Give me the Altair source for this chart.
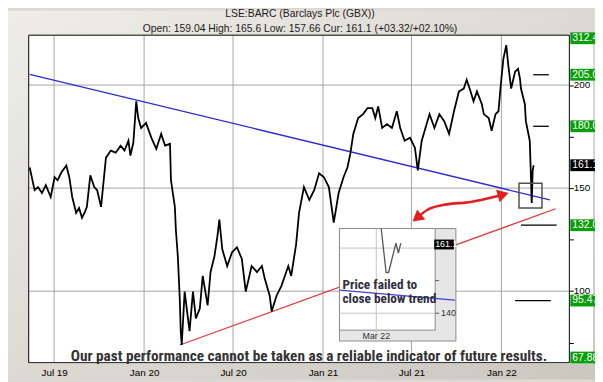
import altair as alt
import pandas as pd

# ---------------- text ----------------
title_text = "LSE:BARC (Barclays Plc (GBX))"
subtitle_text = "Open: 159.04 High: 165.6 Low: 157.66 Cur: 161.1 (+03.32/+02.10%)"
disclaimer_text = "Our past performance cannot be taken as a reliable indicator of future results."
note_lines = ["Price failed to", "close below trend"]

# ---------------- price series ----------------
price_dates = [
    "2019-05-12", "2019-05-22", "2019-05-29", "2019-06-06", "2019-06-14", "2019-06-24",
    "2019-07-02", "2019-07-08", "2019-07-16", "2019-07-26", "2019-08-01", "2019-08-07",
    "2019-08-15", "2019-08-21", "2019-08-27", "2019-09-02", "2019-09-06", "2019-09-13",
    "2019-09-21", "2019-09-27", "2019-10-05", "2019-10-09", "2019-10-15", "2019-10-25",
    "2019-11-04", "2019-11-14", "2019-11-22", "2019-11-30", "2019-12-04", "2019-12-10",
    "2019-12-16", "2019-12-20", "2019-12-26", "2020-01-05", "2020-01-16", "2020-01-26",
    "2020-02-05", "2020-02-13", "2020-02-23", "2020-02-25", "2020-03-04", "2020-03-06",
    "2020-03-10", "2020-03-14", "2020-03-16", "2020-03-18", "2020-03-24", "2020-04-03",
    "2020-04-10", "2020-04-16", "2020-04-24", "2020-04-30", "2020-05-10", "2020-05-16",
    "2020-05-24", "2020-05-30", "2020-06-03", "2020-06-09", "2020-06-19", "2020-06-29",
    "2020-07-09", "2020-07-19", "2020-07-27", "2020-08-08", "2020-08-19", "2020-08-29",
    "2020-09-04", "2020-09-14", "2020-09-18", "2020-09-28", "2020-10-08", "2020-10-22",
    "2020-10-28", "2020-11-07", "2020-11-13", "2020-11-23", "2020-12-04", "2020-12-14",
    "2020-12-24", "2021-01-03", "2021-01-13", "2021-01-23", "2021-02-02", "2021-02-12",
    "2021-02-20", "2021-02-26", "2021-03-04", "2021-03-14", "2021-03-24", "2021-04-02",
    "2021-04-12", "2021-04-18", "2021-04-24", "2021-05-02", "2021-05-12", "2021-05-22",
    "2021-06-01", "2021-06-08", "2021-06-17", "2021-06-28", "2021-07-08", "2021-07-14",
    "2021-07-22", "2021-07-28", "2021-08-07", "2021-08-17", "2021-08-27", "2021-09-06",
    "2021-09-16", "2021-09-26", "2021-10-06", "2021-10-16", "2021-10-22", "2021-10-30",
    "2021-11-05", "2021-11-12", "2021-11-22", "2021-11-26", "2021-12-06", "2021-12-12",
    "2021-12-20", "2021-12-26", "2021-12-30", "2022-01-05", "2022-01-11", "2022-01-15",
    "2022-01-21", "2022-01-29", "2022-02-04", "2022-02-08", "2022-02-10", "2022-02-18",
    "2022-02-20", "2022-02-28", "2022-03-02", "2022-03-04", "2022-03-06", "2022-03-08",
]
price_values = [
    160.0, 149.0, 150.5, 147.6, 151.4, 145.7,
    155.3, 153.8, 157.7, 161.0, 155.3, 145.7,
    138.0, 140.4, 135.6, 138.5, 140.9, 156.2,
    150.5, 149.0, 140.9, 150.5, 164.8, 168.2,
    167.2, 170.6, 168.2, 173.0, 165.8, 172.0,
    192.1, 184.0, 179.2, 181.6, 174.4, 169.1,
    176.3, 170.6, 171.5, 153.8, 140.9, 129.9,
    117.0, 96.4, 80.6, 73.9, 99.8, 80.6,
    99.8, 86.8, 91.6, 107.4, 93.1, 109.3,
    117.0, 126.6, 134.7, 120.3, 112.2, 118.9,
    121.3, 115.6, 99.8, 112.2, 109.3, 112.2,
    106.0, 97.8, 90.2, 97.8, 102.6, 112.2,
    107.4, 122.7, 138.0, 150.5, 144.3, 149.0,
    157.2, 155.3, 150.5, 133.3, 147.6, 155.3,
    160.0, 166.7, 176.3, 184.0, 185.9, 188.8,
    188.8, 184.0, 189.7, 179.2, 181.1, 179.2,
    187.3, 179.2, 173.0, 174.4, 169.6, 158.6,
    173.0, 177.8, 185.9, 179.2, 185.9, 182.5,
    176.3, 187.3, 196.9, 198.3, 202.6, 196.9,
    192.1, 196.9, 190.7, 185.9, 184.0, 177.8,
    185.9, 187.3, 198.3, 212.7, 219.4, 209.8,
    198.3, 206.5, 207.9, 203.1, 198.3, 190.7,
    182.5, 173.0, 158.6, 142.8, 158.6, 161.1,
]

# trend lines
blue_dates = ["2019-05-12", "2022-04-10"]
blue_values = [205.2, 144.3]
red_dates = ["2020-03-14", "2022-04-22"]
red_values = [73.9, 140.0]

# target levels (short black lines)
target_values = [205.0, 180.0, 132.0, 95.47]
target_start = ["2022-03-07", "2022-03-07", "2022-02-10", "2022-01-29"]
target_end = ["2022-04-08", "2022-04-08", "2022-04-24", "2022-04-12"]

# highlight box
box_dates = ["2022-02-06", "2022-03-25"]
box_values = [140.4, 152.4]

# right-hand value labels
label_values = [312.4, 205.0, 180.0, 161.1, 132.0, 95.47, 67.8]
label_texts = ["312.4", "205.0", "180.0", "161.1", "132.0", "95.47", "67.88"]
label_fills = ["#0a9e0a", "#0a9e0a", "#0a9e0a", "#000000", "#0a9e0a", "#0a9e0a", "#0a9e0a"]

# axes
grid_dates = ["2019-07-01", "2020-01-01", "2020-07-01", "2021-01-01", "2021-07-01", "2022-01-01"]
grid_values = [100, 150, 200]
y_tick_values = [75, 100, 125, 150, 175, 200]

# red double arrow
arrow_dates = ["2021-07-15", "2021-08-03", "2021-09-06", "2021-10-30", "2021-12-16", "2022-01-01"]
arrow_values = [136.1, 139.5, 141.9, 143.3, 145.7, 146.7]
arrow_head_dates = ["2021-07-15", "2022-01-01"]
arrow_head_values = [136.1, 146.7]
arrow_head_angles = [231, 74]

# inset (zoomed view)
inset_dates = ["2022-03-03", "2022-03-05", "2022-03-06", "2022-03-09", "2022-03-10", "2022-03-11"]
inset_values = [166.0, 152.5, 152.5, 161.5, 158.5, 161.5]
inset_blue_dates = ["2022-02-14", "2022-04-02"]
inset_blue_values = [147.1, 144.0]
inset_grid_values = [160, 140]
inset_tick_values = [160, 150, 140]
inset_grid_dates = ["2022-03-01"]


def ms(s):
    return int(pd.Timestamp(s, tz="UTC").value // 10**6)


FONT = "Liberation Sans"
NARROW = "Roboto Condensed, Liberation Sans Narrow, DejaVu Sans Condensed, Liberation Sans"
PW, PH = 548, 332
PAD = {"left": 21, "top": 25, "right": 26, "bottom": 17}

xs = alt.Scale(type="utc", domain=[ms("2019-05-10"), ms("2022-05-20")], nice=False)
ys = alt.Scale(domain=[65.3, 224.2], nice=False, zero=False)

one = pd.DataFrame({"k": [0]})

x_axis = alt.Axis(values=[ms(d) for d in grid_dates], format="%b %y", labelFontSize=10,
                  labelFont=FONT, labelColor="black", ticks=False, domain=False, grid=False,
                  labelPadding=5, zindex=1, title=None)
y_axis = alt.Axis(orient="right", values=y_tick_values,
                  labelExpr="datum.value % 50 == 0 ? datum.label : ''",
                  tickSize=4, tickColor="black", domain=False, grid=False, labelFontSize=10,
                  labelFont=FONT, labelColor="black", labelPadding=0, labelOffset=-1,
                  zindex=1, title=None)

gradient = {"gradient": "linear", "x1": 0, "y1": 0, "x2": 1, "y2": 1,
            "stops": [{"offset": 0, "color": "#efede8"}, {"offset": 1, "color": "#cac7bf"}]}

frame = alt.Chart(one).mark_rect(fill=gradient).encode(
    x=alt.value(-PAD["left"]), x2=alt.value(PW + PAD["right"]),
    y=alt.value(-PAD["top"]), y2=alt.value(PH + PAD["bottom"]))

white = alt.Chart(one).mark_rect(fill="white").encode(
    x=alt.value(0), x2=alt.value(PW + 24), y=alt.value(0), y2=alt.value(PH + 1))

gx = alt.Chart(pd.DataFrame({"date": grid_dates})).mark_rule(color="#a6a6a6", strokeWidth=1).encode(
    x=alt.X("date:T", scale=xs, title=None))
gy = alt.Chart(pd.DataFrame({"value": grid_values})).mark_rule(color="#a6a6a6", strokeWidth=1).encode(
    y=alt.Y("value:Q", scale=ys, title=None))

red_line = alt.Chart(pd.DataFrame({"date": red_dates, "value": red_values})).mark_line(
    color="#e23a3a", strokeWidth=1.3).encode(
    x=alt.X("date:T", scale=xs, title=None), y=alt.Y("value:Q", scale=ys, title=None))
blue_line = alt.Chart(pd.DataFrame({"date": blue_dates, "value": blue_values})).mark_line(
    color="#2a2ad0", strokeWidth=1.3).encode(
    x=alt.X("date:T", scale=xs, title=None), y=alt.Y("value:Q", scale=ys, title=None))

price = alt.Chart(pd.DataFrame({"date": price_dates, "value": price_values})).mark_line(
    color="black", strokeWidth=1.8).encode(
    x=alt.X("date:T", scale=xs, axis=x_axis, title=None),
    y=alt.Y("value:Q", scale=ys, axis=y_axis, title=None))

targets = alt.Chart(pd.DataFrame({"start": target_start, "end": target_end, "value": target_values})).mark_rule(
    color="black", strokeWidth=1.3).encode(
    x=alt.X("start:T", scale=xs, title=None), x2="end:T", y=alt.Y("value:Q", scale=ys, title=None))

box = alt.Chart(pd.DataFrame({"d1": [box_dates[0]], "d2": [box_dates[1]],
                              "v1": [box_values[0]], "v2": [box_values[1]]})).mark_rect(
    fillOpacity=0, stroke="#505050", strokeWidth=1.5).encode(
    x=alt.X("d1:T", scale=xs, title=None), x2="d2:T",
    y=alt.Y("v1:Q", scale=ys, title=None), y2="v2:Q")

lab_df = pd.DataFrame({"value": label_values, "text": label_texts, "fill": label_fills})
lab_base = alt.Chart(lab_df).transform_calculate(pos="max(min(datum.value, 222.7), 66.5)")
lab_rect = lab_base.mark_rect(yOffset=-6, y2Offset=6).encode(
    x=alt.value(PW + 1), x2=alt.value(PW + 26),
    y=alt.Y("pos:Q", scale=ys, title=None), y2="pos:Q",
    color=alt.Color("fill:N", scale=None))
lab_text = lab_base.mark_text(align="left", baseline="middle", color="white", fontSize=10.5,
                              font=FONT).encode(
    x=alt.value(PW + 3), y=alt.Y("pos:Q", scale=ys, title=None), text="text:N")

border = alt.Chart(one).mark_rect(fillOpacity=0, stroke="black", strokeWidth=1).encode(
    x=alt.value(0), x2=alt.value(PW), y=alt.value(0), y2=alt.value(PH))

arrow_line = alt.Chart(pd.DataFrame({"date": arrow_dates, "value": arrow_values})).mark_line(
    color="#e41e1e", strokeWidth=2.6, interpolate="monotone").encode(
    x=alt.X("date:T", scale=xs, title=None), y=alt.Y("value:Q", scale=ys, title=None))
arrow_heads = alt.Chart(pd.DataFrame({"date": arrow_head_dates, "value": arrow_head_values,
                                      "ang": arrow_head_angles})).mark_point(
    shape="triangle", filled=True, size=170, color="#e41e1e", opacity=1).encode(
    x=alt.X("date:T", scale=xs, title=None), y=alt.Y("value:Q", scale=ys, title=None),
    angle=alt.Angle("ang:Q", scale=None))

titles = alt.Chart(pd.DataFrame({"t": [title_text, subtitle_text], "yy": [-21.5, -6]})).mark_text(
    fontSize=10.5, font=FONT, color="#1a1a1a", baseline="middle", align="center").encode(
    x=alt.value(275), y=alt.Y("yy:Q", scale=None), text="t:N")

disclaimer = alt.Chart(pd.DataFrame({"t": [disclaimer_text]})).mark_text(
    fontSize=15.5, font=NARROW, fontWeight="bold", color="#333333",
    baseline="middle", align="center").encode(
    x=alt.value(284), y=alt.value(325.5), text="t:N")

main = alt.layer(frame, white, gx, gy, red_line, blue_line, price, targets, box,
                 lab_rect, lab_text, border, arrow_line, arrow_heads, titles, disclaimer)

# ---------------- inset ----------------
ixs = alt.Scale(type="utc", domain=[ms("2022-02-14"), ms("2022-03-25")], range=[315, 412], nice=False)
iys = alt.Scale(domain=[134.8, 166.0], range=[299, 196], nice=False, zero=False)

panel = alt.Chart(one).mark_rect(fill="#e6e6e6", stroke="#8a8a8a", strokeWidth=1).encode(
    x=alt.value(315), x2=alt.value(433), y=alt.value(196), y2=alt.value(310))
panel_white = alt.Chart(one).mark_rect(fill="white", stroke="#8a8a8a", strokeWidth=1).encode(
    x=alt.value(315), x2=alt.value(412), y=alt.value(196), y2=alt.value(299))
igy = alt.Chart(pd.DataFrame({"value": inset_grid_values})).mark_rule(color="#c4c4c4").encode(
    y=alt.Y("value:Q", scale=iys, axis=None), x=alt.value(315), x2=alt.value(412))
iticks = alt.Chart(pd.DataFrame({"value": inset_tick_values})).mark_rule(color="#555555").encode(
    y=alt.Y("value:Q", scale=iys, axis=None), x=alt.value(412), x2=alt.value(416))
igx = alt.Chart(pd.DataFrame({"date": inset_grid_dates})).mark_rule(color="#c4c4c4").encode(
    x=alt.X("date:T", scale=ixs, axis=None), y=alt.value(196), y2=alt.value(302))
iblue = alt.Chart(pd.DataFrame({"date": inset_blue_dates, "value": inset_blue_values})).mark_line(
    color="#4040d0", strokeWidth=1.2).encode(
    x=alt.X("date:T", scale=ixs, axis=None), y=alt.Y("value:Q", scale=iys, axis=None))
iprice = alt.Chart(pd.DataFrame({"date": inset_dates, "value": inset_values})).mark_line(
    color="#555555", strokeWidth=1.3).encode(
    x=alt.X("date:T", scale=ixs, axis=None), y=alt.Y("value:Q", scale=iys, axis=None))
ilab_rect = alt.Chart(pd.DataFrame({"value": [161.1]})).mark_rect(
    color="black", yOffset=-5, y2Offset=5).encode(
    x=alt.value(411), x2=alt.value(431),
    y=alt.Y("value:Q", scale=iys, axis=None), y2="value:Q")
ilab_text = alt.Chart(pd.DataFrame({"value": [161.1], "t": ["161.1"]})).mark_text(
    align="left", baseline="middle", color="white", fontSize=9, font=FONT).encode(
    x=alt.value(412), y=alt.Y("value:Q", scale=iys, axis=None), text="t:N")
ilab140 = alt.Chart(pd.DataFrame({"value": [140], "t": ["140"]})).mark_text(
    align="left", baseline="middle", color="#333333", fontSize=9, font=FONT).encode(
    x=alt.value(418), y=alt.Y("value:Q", scale=iys, axis=None), text="t:N")
ilabx = alt.Chart(pd.DataFrame({"date": inset_grid_dates, "t": ["Mar 22"]})).mark_text(
    align="center", baseline="middle", color="#333333", fontSize=9, font=FONT).encode(
    x=alt.X("date:T", scale=ixs, axis=None), y=alt.value(305), text="t:N")
note = alt.Chart(pd.DataFrame({"t": note_lines, "yy": [253, 267]})).mark_text(
    align="left", baseline="middle", color="#2e2e3e", fontSize=13.5, font=NARROW,
    fontWeight="bold").encode(
    x=alt.value(318), y=alt.Y("yy:Q", scale=None), text="t:N")

inset = alt.layer(panel, panel_white, igy, iticks, igx, iblue, iprice,
                  ilab_rect, ilab_text, ilab140, ilabx, note)

chart = alt.layer(main, inset).resolve_scale(x="independent", y="independent").properties(
    width=PW, height=PH, padding=PAD, autosize=alt.AutoSizeParams(type="none"),
    background="#dcd9d2",
).configure_view(stroke=None)

chart.save("out.html", embed_options={"renderer": "svg", "actions": False})
